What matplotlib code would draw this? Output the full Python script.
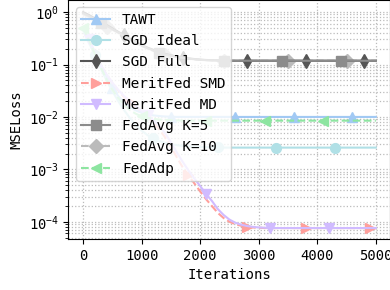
import matplotlib
matplotlib.use("Agg")
import matplotlib.pyplot as plt

plt.rcParams['font.family'] = ['DejaVu Sans Mono']
plt.rcParams['font.size'] = 10
plt.rcParams['mathtext.fontset'] = 'custom'
plt.rcParams['mathtext.rm'] = 'DejaVu Sans Mono'
plt.rcParams['mathtext.it'] = 'DejaVu Sans Mono:italic'

# iterations, one value every 100 steps
iters = list(range(0, 5001, 100))

tawt = [0.5, 0.3, 0.17, 0.095, 0.056, 0.036, 0.025, 0.019, 0.0155, 0.0133,
        0.012, 0.0112, 0.0107, 0.0104, 0.0102, 0.0101, 0.0100, 0.0100, 0.0100, 0.0100,
        0.0100, 0.0100, 0.0100, 0.0100, 0.0100, 0.0100, 0.0100, 0.0100, 0.0100, 0.0100,
        0.0100, 0.0100, 0.0100, 0.0100, 0.0100, 0.0100, 0.0100, 0.0100, 0.0100, 0.0100,
        0.0100, 0.0100, 0.0100, 0.0100, 0.0100, 0.0100, 0.0100, 0.0100, 0.0100, 0.0100,
        0.0100]
sgd_ideal = [0.45, 0.26, 0.15, 0.085, 0.05, 0.031, 0.02, 0.0135, 0.0095, 0.007,
             0.0055, 0.0045, 0.0039, 0.0035, 0.0032, 0.0030, 0.0029, 0.0028, 0.00275, 0.0027,
             0.00268, 0.00265, 0.00263, 0.00262, 0.0026, 0.0026, 0.0026, 0.0026, 0.0026, 0.0026,
             0.0026, 0.0026, 0.0026, 0.0026, 0.0026, 0.0026, 0.0026, 0.0026, 0.0026, 0.0026,
             0.0026, 0.0026, 0.0026, 0.0026, 0.0026, 0.0026, 0.0026, 0.0026, 0.0026, 0.0026,
             0.0026]
sgd_full = [1.0, 0.88, 0.76, 0.66, 0.57, 0.49, 0.42, 0.36, 0.31, 0.27,
            0.235, 0.21, 0.19, 0.172, 0.16, 0.15, 0.142, 0.136, 0.131, 0.127,
            0.124, 0.122, 0.121, 0.12, 0.119, 0.118, 0.118, 0.118, 0.118, 0.118,
            0.118, 0.118, 0.118, 0.118, 0.118, 0.118, 0.118, 0.118, 0.118, 0.118,
            0.118, 0.118, 0.118, 0.118, 0.118, 0.118, 0.118, 0.118, 0.118, 0.118,
            0.118]
meritfed_smd = [0.5, 0.3, 0.17, 0.1, 0.064, 0.044, 0.032, 0.024, 0.019, 0.015,
                0.012, 0.0098, 0.0077, 0.0058, 0.0041, 0.0027, 0.0017, 0.0011, 0.00077, 0.00054,
                0.00038, 0.00027, 0.0002, 0.000148, 0.000118, 0.0001, 0.00009, 0.000084, 0.00008, 0.000078,
                0.000077, 0.000076, 0.000076, 0.000076, 0.000076, 0.000076, 0.000076, 0.000076, 0.000076, 0.000076,
                0.000076, 0.000076, 0.000076, 0.000076, 0.000076, 0.000076, 0.000076, 0.000076, 0.000076, 0.000076,
                0.000076]
meritfed_md = [0.5, 0.3, 0.17, 0.1, 0.065, 0.045, 0.033, 0.025, 0.02, 0.016,
               0.013, 0.0107, 0.0086, 0.0068, 0.0049, 0.0033, 0.0021, 0.0014, 0.00095, 0.00067,
               0.00048, 0.00034, 0.00025, 0.000175, 0.000135, 0.00011, 0.000096, 0.000088, 0.000083, 0.00008,
               0.000078, 0.000077, 0.000076, 0.000076, 0.000076, 0.000076, 0.000076, 0.000076, 0.000076, 0.000076,
               0.000076, 0.000076, 0.000076, 0.000076, 0.000076, 0.000076, 0.000076, 0.000076, 0.000076, 0.000076,
               0.000076]
fedavg_k5 = [0.95, 0.84, 0.73, 0.63, 0.55, 0.47, 0.41, 0.35, 0.3, 0.26,
             0.23, 0.205, 0.185, 0.168, 0.156, 0.147, 0.14, 0.134, 0.129, 0.126,
             0.123, 0.121, 0.12, 0.119, 0.118, 0.118, 0.118, 0.118, 0.118, 0.118,
             0.118, 0.118, 0.118, 0.118, 0.118, 0.118, 0.118, 0.118, 0.118, 0.118,
             0.118, 0.118, 0.118, 0.118, 0.118, 0.118, 0.118, 0.118, 0.118, 0.118,
             0.118]
fedavg_k10 = [0.9, 0.8, 0.7, 0.61, 0.53, 0.46, 0.4, 0.34, 0.29, 0.255,
              0.225, 0.2, 0.182, 0.166, 0.155, 0.146, 0.139, 0.133, 0.128, 0.125,
              0.123, 0.121, 0.12, 0.119, 0.118, 0.118, 0.118, 0.118, 0.118, 0.118,
              0.118, 0.118, 0.118, 0.118, 0.118, 0.118, 0.118, 0.118, 0.118, 0.118,
              0.118, 0.118, 0.118, 0.118, 0.118, 0.118, 0.118, 0.118, 0.118, 0.118,
              0.118]
fedadp = [0.5, 0.29, 0.16, 0.09, 0.052, 0.033, 0.023, 0.017, 0.0135, 0.0115,
          0.0103, 0.0096, 0.0092, 0.0089, 0.0088, 0.0087, 0.0086, 0.0085, 0.0085, 0.0085,
          0.0085, 0.0085, 0.0085, 0.0085, 0.0085, 0.0085, 0.0085, 0.0085, 0.0085, 0.0085,
          0.0085, 0.0085, 0.0085, 0.0085, 0.0085, 0.0085, 0.0085, 0.0085, 0.0085, 0.0085,
          0.0085, 0.0085, 0.0085, 0.0085, 0.0085, 0.0085, 0.0085, 0.0085, 0.0085, 0.0085,
          0.0085]

labels = ["TAWT", "SGD Ideal", "SGD Full", "MeritFed SMD", "MeritFed MD",
          "FedAvg K=5", "FedAvg K=10", "FedAdp"]
series = [tawt, sgd_ideal, sgd_full, meritfed_smd, meritfed_md,
          fedavg_k5, fedavg_k10, fedadp]

colors = ['#a1c9f4', '#b0e0e6', '#555555', '#ff9f9b', '#d0bbff',
          '#8c8c8c', '#bbbbbb', '#8de5a1']
markers = ['^', 'o', 'd', '>', 'v', 's', 'D', '<']
styles = ['-', '-', '-', '--', '-', '-', '--', '--']
marks = [[5, 15, 26, 36, 46], [2, 12, 23, 33, 43], [7, 17, 28, 38, 48],
         [8, 18, 28, 38, 49], [1, 11, 21, 32, 42], [3, 13, 24, 34, 44],
         [4, 14, 24, 35, 45], [0, 10, 21, 31, 41]]
zorders = [3, 3, 3, 2, 3, 3, 2, 3]

fig = plt.figure(figsize=(3.9, 2.9), dpi=100)
ax = fig.add_axes([0.1756, 0.1759, 0.8256, 0.8241])

for y, lab, c, m, ls, me, z in zip(series, labels, colors, markers, styles, marks, zorders):
    ax.plot(iters, y, ls, color=c, marker=m, markevery=me, markersize=7,
            linewidth=1.5, label=lab, zorder=z)

ax.set_yscale('log')
ax.set_xlim(-250, 5250)
ax.set_ylim(4.7e-5, 1.7)
ax.set_xticks([0, 1000, 2000, 3000, 4000, 5000])
ax.grid(True, which='major', linestyle=':', color='#bbbbbb', linewidth=0.9)
ax.grid(True, which='minor', axis='y', linestyle=':', color='#bbbbbb', linewidth=0.9)
ax.set_axisbelow(True)
ax.set_xlabel("Iterations")
ax.set_ylabel("MSELoss")
ax.legend(loc='upper left', fontsize=10.4)

fig.savefig("out.png", dpi=100)
